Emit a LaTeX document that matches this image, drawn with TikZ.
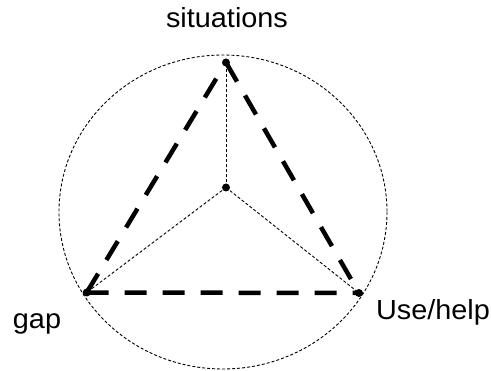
\documentclass[tikz,border=0pt]{standalone}
\usepackage{fontspec}
\setmainfont{Liberation Sans}
\begin{document}
\begin{tikzpicture}[x=1pt,y=-1pt,
  vertex/.style={circle,fill=black,inner sep=0pt,minimum size=8pt},
  spoke/.style={line width=0.9pt,dash pattern=on 3pt off 2pt},
  edge/.style={line width=4.5pt,dash pattern=on 22pt off 16pt},
  label/.style={anchor=base,inner sep=0pt,xscale=1.045,font=\fontsize{27.6}{30}\selectfont}]
\useasboundingbox (0,0) rectangle (491,371);
% enclosing circle
\draw[spoke] (223,212) ellipse [x radius=164, y radius=157];
% vertices and centre
\node[vertex] (S) at (226,62.5) {};
\node[vertex] (G) at (86.7,292.5) {};
\node[vertex] (U) at (359,293) {};
\node[vertex] (C) at (226,187.5) {};
% spokes from the centre
\draw[spoke] (C.center) -- (S.center);
\draw[spoke] (C.center) -- (G.center);
\draw[spoke] (C.center) -- (U.center);
% triangle edges
\draw[edge] (G.center) -- (S.center);
\draw[edge] (S.center) -- (U.center);
\draw[edge] (G.center) -- (U.center);
% labels
\node[label] (ls) at (227,28) {situations};
\node[label] (lg) at (37,329) {gap};
\node[label] (lu) at (433,320) {Use/help};
\end{tikzpicture}
\end{document}
